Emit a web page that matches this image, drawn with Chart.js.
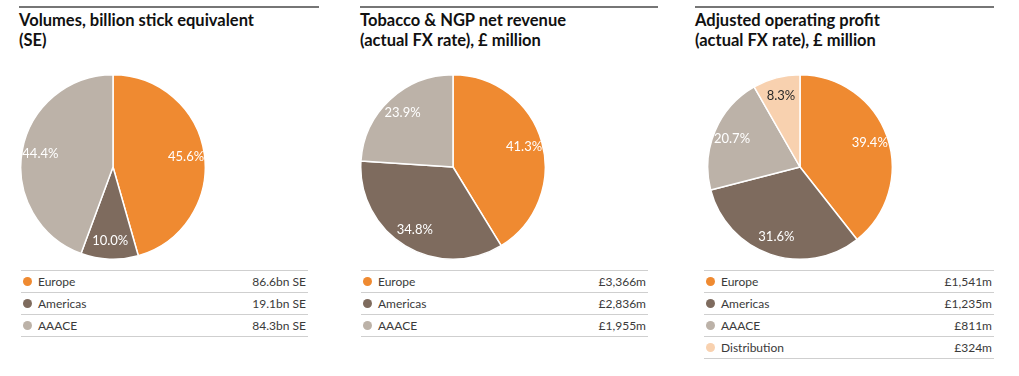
<!DOCTYPE html>
<html>
<head>
<meta charset="utf-8">
<script src="https://cdn.jsdelivr.net/npm/chart.js@4.4.1/dist/chart.umd.min.js"></script>
<style>
  body { margin: 0; background: #fff; width: 1019px; height: 376px; position: relative; overflow: hidden; font-family: Lato, "Open Sans", sans-serif; color: #222; }
  .panel { position: absolute; top: 0; height: 376px; }
  .rule { position: absolute; top: 6px; left: 0; right: 0; height: 2px; background: #767676; }
  .title { position: absolute; top: 10px; left: 0; font-weight: 700; font-size: 16.5px; line-height: 20px; color: #111; white-space: nowrap; }
  .pie { position: absolute; width: 186px; height: 186px; }
  .legend { position: absolute; top: 270px; border-top: 1px solid #cfcfcf; }
  .row { position: relative; height: 21px; border-bottom: 1px solid #cfcfcf; font-size: 12px; line-height: 21px; color: #3a3a3a; }
  .dot { position: absolute; left: 2px; top: 6px; width: 9px; height: 9px; border-radius: 50%; }
  .lab { position: absolute; left: 17px; }
  .val { position: absolute; right: 2px; }
</style>
</head>
<body>
<div id="root"></div>
<script>
// Data
const regions = ['Europe', 'Americas', 'AAACE'];
const regions3 = ['Europe', 'Americas', 'AAACE', 'Distribution'];
const colors = ['#ef8a31', '#7e6b5e', '#bcb2a8', '#f8d1af'];

const volumes = [86.6, 19.1, 84.3];
const volumeText = ['86.6bn SE', '19.1bn SE', '84.3bn SE'];
const volumePct = ['45.6%', '10.0%', '44.4%'];

const revenue = [3366, 2836, 1955];
const revenueText = ['£3,366m', '£2,836m', '£1,955m'];
const revenuePct = ['41.3%', '34.8%', '23.9%'];

const profit = [1541, 1235, 811, 324];
const profitText = ['£1,541m', '£1,235m', '£811m', '£324m'];
const profitPct = ['39.4%', '31.6%', '20.7%', '8.3%'];

const panels = [
    { x: 19, w: 300, pieX: 112.5, legX: 2, legW: 287, title: 'Volumes, billion stick equivalent<br>(SE)',
      labels: regions, values: volumes, text: volumeText, pct: volumePct },
    { x: 360, w: 298, pieX: 453, legX: 1, legW: 287, title: 'Tobacco &amp; NGP net revenue<br>(actual FX rate), £ million',
      labels: regions, values: revenue, text: revenueText, pct: revenuePct },
    { x: 695, w: 299, pieX: 799.5, legX: 9, legW: 290, title: 'Adjusted operating profit<br>(actual FX rate), £ million',
      labels: regions3, values: profit, text: profitText, pct: profitPct }
];

// Percentage labels inside the slices
const sliceLabels = {
    id: 'sliceLabels',
    afterDatasetsDraw(chart) {
        const ctx = chart.ctx;
        const pct = chart.options.plugins.sliceLabels.pct;
        chart.getDatasetMeta(0).data.forEach((arc, i) => {
            const mid = (arc.startAngle + arc.endAngle) / 2;
            const r = arc.outerRadius * 0.8;
            ctx.save();
            ctx.font = '13px Lato, "Open Sans", sans-serif';
            ctx.fillStyle = i === 3 ? '#2a2a2a' : '#ffffff';
            ctx.textAlign = 'center';
            ctx.textBaseline = 'middle';
            ctx.fillText(pct[i], arc.x + Math.cos(mid) * r, arc.y + Math.sin(mid) * r);
            ctx.restore();
        });
    }
};

const root = document.getElementById('root');
panels.forEach((p, n) => {
    const el = document.createElement('div');
    el.className = 'panel';
    el.style.left = p.x + 'px';
    el.style.width = p.w + 'px';
    el.innerHTML = '<div class="rule"></div><div class="title">' + p.title + '</div>';
    root.appendChild(el);

    // pie
    const box = document.createElement('div');
    box.className = 'pie';
    box.style.left = (p.pieX - 93) + 'px';
    box.style.top = '74px';
    const canvas = document.createElement('canvas');
    box.appendChild(canvas);
    root.appendChild(box);

    // legend
    const leg = document.createElement('div');
    leg.className = 'legend';
    leg.style.left = (p.x + p.legX) + 'px';
    leg.style.width = p.legW + 'px';
    p.labels.forEach((name, i) => {
        leg.innerHTML += '<div class="row"><span class="dot" style="background:' + colors[i] + '"></span>' +
            '<span class="lab">' + name + '</span><span class="val">' + p.text[i] + '</span></div>';
    });
    root.appendChild(leg);

    new Chart(canvas.getContext('2d'), {
        type: 'pie',
        data: {
            labels: p.labels,
            datasets: [{
                data: p.values,
                backgroundColor: colors.slice(0, p.values.length),
                borderColor: '#ffffff',
                borderWidth: 1.5
            }]
        },
        options: {
            responsive: true,
            maintainAspectRatio: false,
            animation: false,
            layout: { padding: 0 },
            plugins: {
                legend: { display: false },
                tooltip: { enabled: false },
                sliceLabels: { pct: p.pct }
            }
        },
        plugins: [sliceLabels]
    });
});
</script>
</body>
</html>
